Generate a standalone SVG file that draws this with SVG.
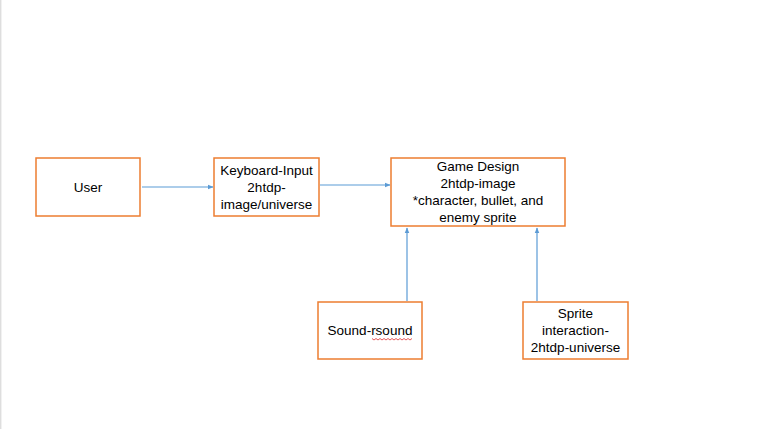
<svg xmlns="http://www.w3.org/2000/svg" width="768" height="429" viewBox="0 0 768 429">
<defs>
<style>
.box{fill:#fff;stroke:#ed7d31;stroke-width:1.5}
.lbl{font-family:"Liberation Sans",Arial,sans-serif;font-size:13.5px;fill:#000;text-anchor:middle}
.conn{stroke:#5b9bd5;stroke-width:1.2;fill:none}
</style>
<marker id="ah" viewBox="0 0 10 10" refX="9" refY="5" markerWidth="6" markerHeight="6" markerUnits="userSpaceOnUse" orient="auto">
<path d="M0,1 L10,5 L0,9 z" fill="#5b9bd5"/>
</marker>
</defs>
<rect width="768" height="429" fill="#fff"/>
<line x1="0.8" y1="0" x2="0.8" y2="429" stroke="#d0d0d0" stroke-width="1"/>
<g id="connectors">
<line class="conn" x1="142" y1="187" x2="213" y2="187" marker-end="url(#ah)"/>
<line class="conn" x1="320" y1="185" x2="390" y2="185" marker-end="url(#ah)"/>
<line class="conn" x1="407" y1="301" x2="407" y2="228" marker-end="url(#ah)"/>
<line class="conn" x1="537" y1="301" x2="537" y2="228" marker-end="url(#ah)"/>
</g>
<g id="user">
<rect class="box" x="36" y="158" width="104" height="58"/>
<text class="lbl" x="88" y="192">User</text>
</g>
<g id="keyboard">
<rect class="box" x="214" y="158" width="105" height="58"/>
<text class="lbl" x="266.5" y="175">Keyboard-Input</text>
<text class="lbl" x="266.5" y="192">2htdp-</text>
<text class="lbl" x="266.5" y="209">image/universe</text>
</g>
<g id="game">
<rect class="box" x="391" y="158" width="174" height="68"/>
<text class="lbl" x="478" y="171">Game Design</text>
<text class="lbl" x="478" y="188">2htdp-image</text>
<text class="lbl" x="478" y="205">*character, bullet, and</text>
<text class="lbl" x="478" y="222">enemy sprite</text>
</g>
<g id="sound">
<rect class="box" x="318" y="302" width="104" height="57"/>
<text class="lbl" x="370" y="335">Sound-rsound</text>
<path d="M372,338.5 l2,1.5 l2,-1.5 l2,1.5 l2,-1.5 l2,1.5 l2,-1.5 l2,1.5 l2,-1.5 l2,1.5 l2,-1.5 l2,1.5 l2,-1.5 l2,1.5 l2,-1.5 l2,1.5 l2,-1.5 l2,1.5 l2,-1.5 l2,1.5 l2,-1.5" fill="none" stroke="#e03030" stroke-width="0.8"/>
</g>
<g id="sprite">
<rect class="box" x="523" y="302" width="105" height="57"/>
<text class="lbl" x="575.5" y="318">Sprite</text>
<text class="lbl" x="575.5" y="335">interaction-</text>
<text class="lbl" x="575.5" y="352">2htdp-universe</text>
</g>
</svg>
